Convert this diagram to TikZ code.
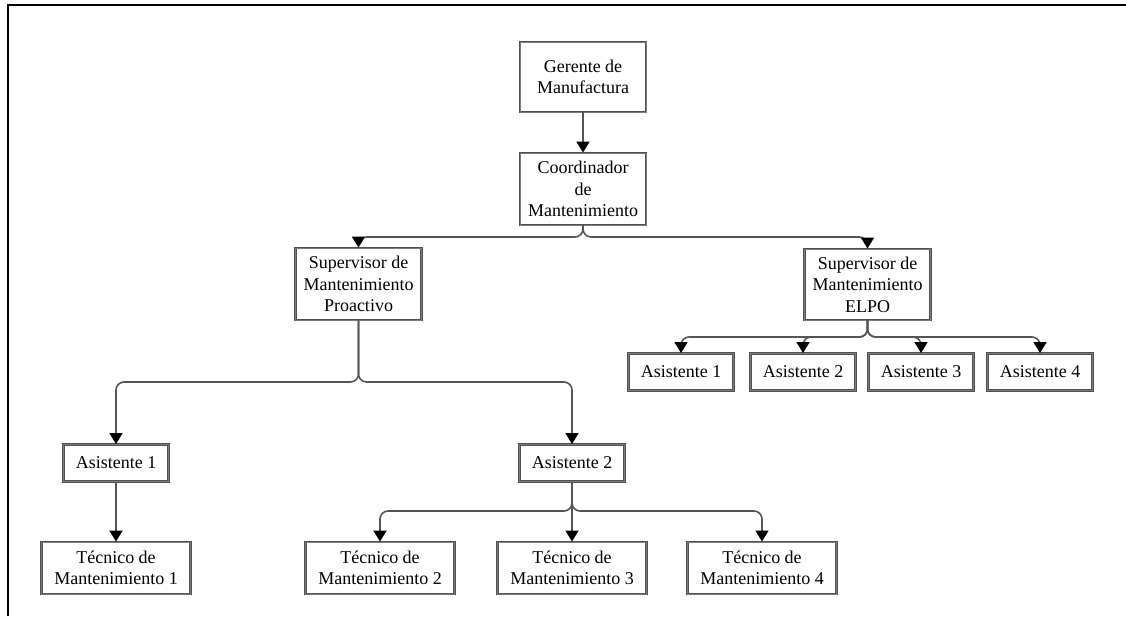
\documentclass[tikz,border=0pt]{standalone}
\usepackage{fontspec}
\setmainfont{Liberation Serif}
\usetikzlibrary{arrows.meta}
\definecolor{framegray}{RGB}{80,80,80}
\definecolor{innergray}{RGB}{125,125,125}
\definecolor{linegray}{RGB}{85,85,85}
\begin{document}
\begin{tikzpicture}[x=1pt,y=-1pt,
  box/.style={draw=framegray, double=innergray, double distance=1pt,
    line width=0.9pt, fill=white, inner sep=0pt, align=center,
    font=\fontsize{18}{21.5}\selectfont},
  boss/.style={box, minimum width=126pt, minimum height=70pt},
  helper/.style={box, minimum width=105pt, minimum height=37pt},
  tech/.style={box, minimum width=149pt, minimum height=52pt},
  conn/.style={draw=linegray, line width=1.6pt, rounded corners=8pt,
    -{Triangle[width=13pt,length=11pt,color=black]}}]
\useasboundingbox (0,0) rectangle (1126,616);

% outer frame (top and left edges)
\draw[line width=2.2pt] (8,616) -- (8,5) -- (1126,5);

% boxes
\node[boss] (ger) at (583,77) {Gerente de\\Manufactura};
\node[boss, minimum height=72pt] (coord) at (583,189) {Coordinador\\de\\Mantenimiento};
\node[boss, minimum height=72pt] (sp) at (358.5,284) {Supervisor de\\Mantenimiento\\Proactivo};
\node[boss, minimum height=71pt] (se) at (867.5,284.5) {Supervisor de\\Mantenimiento\\ELPO};

\node[helper] (r1) at (681,372) {Asistente 1};
\node[helper] (r2) at (803,372) {Asistente 2};
\node[helper] (r3) at (921,372) {Asistente 3};
\node[helper] (r4) at (1040,372) {Asistente 4};

\node[helper] (a1) at (116,463) {Asistente 1};
\node[helper] (a2) at (572,463) {Asistente 2};

\node[tech] (t1) at (116,568) {Técnico de\\Mantenimiento 1};
\node[tech] (t2) at (380,568) {Técnico de\\Mantenimiento 2};
\node[tech] (t3) at (572,568) {Técnico de\\Mantenimiento 3};
\node[tech] (t4) at (762,568) {Técnico de\\Mantenimiento 4};

% junction points of the branching connectors
\coordinate (jc) at (583,237);
\coordinate (jp) at (358.5,382);
\coordinate (je) at (867.5,337);
\coordinate (ja) at (572,511);

% connectors
\draw[conn] (ger) -- (coord);
\draw[conn] (coord.south) -- (jc) -| (sp.north);
\draw[conn] (coord.south) -- (jc) -| (se.north);

\draw[conn] (se.south) -- (je) -| (r1.north);
\draw[conn] (se.south) -- (je) -| (r2.north);
\draw[conn] (se.south) -- (je) -| (r3.north);
\draw[conn] (se.south) -- (je) -| (r4.north);

\draw[conn] (sp.south) -- (jp) -| (a1.north);
\draw[conn] (sp.south) -- (jp) -| (a2.north);

\draw[conn] (a1) -- (t1);

\draw[conn] (a2.south) -- (ja) -| (t2.north);
\draw[conn] (a2) -- (t3);
\draw[conn] (a2.south) -- (ja) -| (t4.north);
\end{tikzpicture}
\end{document}
